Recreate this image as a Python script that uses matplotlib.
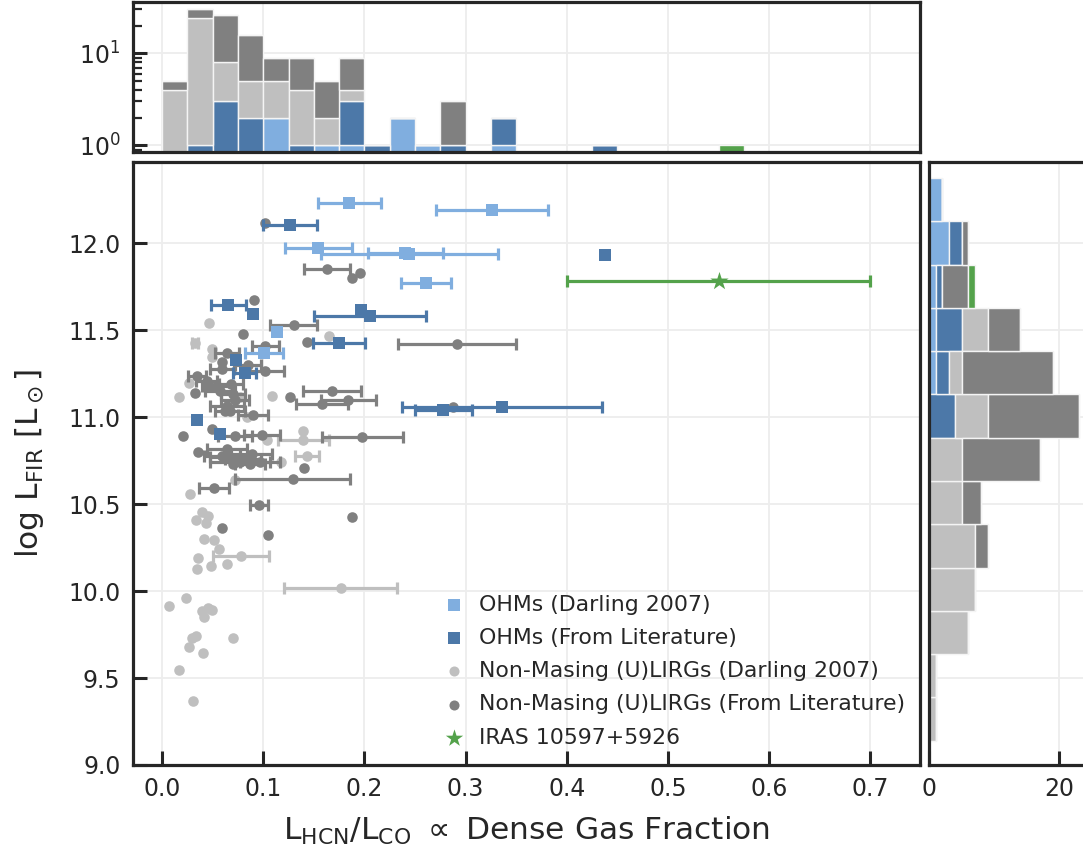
import numpy as np
import matplotlib
matplotlib.use('Agg')
import matplotlib.pyplot as plt

# ---------------- data ----------------
# OHMs (Darling 2007)
lb_x = [0.185, 0.326, 0.1545, 0.2445, 0.2405, 0.261, 0.114, 0.1008]
lb_y = [12.228, 12.191, 11.969, 11.938, 11.945, 11.770, 11.486, 11.371]
lb_e = [0.031, 0.055, 0.033, 0.0875, 0.037, 0.025, 0.0, 0.0185]

# OHMs (From Literature)
db_x = [0.1265, 0.438, 0.0655, 0.0902, 0.197, 0.2055, 0.175, 0.0735, 0.0815,
        0.0343, 0.0573, 0.278, 0.336]
db_y = [12.105, 11.933, 11.642, 11.590, 11.617, 11.580, 11.425, 11.326, 11.256,
        10.985, 10.902, 11.040, 11.055]
db_e = [0.027, 0.0, 0.0175, 0.0, 0.0, 0.055, 0.0255, 0.0, 0.011,
        0.0, 0.0, 0.028, 0.099]

# Non-Masing (U)LIRGs (Darling 2007)
lg_x = [0.0464, 0.165, 0.033, 0.049, 0.049, 0.027, 0.077, 0.0171, 0.1084, 0.0837,
        0.1035, 0.1397, 0.1397, 0.143, 0.118, 0.0721, 0.0277, 0.0392, 0.0333, 0.0435,
        0.045, 0.0415, 0.0514, 0.0359, 0.078, 0.0646, 0.048, 0.056, 0.0349, 0.1766,
        0.0237, 0.0072, 0.0392, 0.0458, 0.049, 0.0415, 0.0699, 0.0293, 0.0336, 0.027,
        0.0402, 0.0171, 0.031]
lg_y = [11.540, 11.467, 11.427, 11.390, 11.346, 11.193, 11.117, 11.113, 11.122, 11.000,
        10.870, 10.921, 10.868, 10.778, 10.743, 10.638, 10.557, 10.456, 10.408, 10.389,
        10.430, 10.299, 10.293, 10.190, 10.203, 10.155, 10.141, 10.240, 10.126, 10.017,
        9.960, 9.916, 9.887, 9.902, 9.891, 9.852, 9.730, 9.730, 9.743, 9.680,
        9.645, 9.546, 9.366]
lg_e = [0.0, 0.0, 0.003, 0.0, 0.0, 0.0, 0.0, 0.0, 0.0, 0.0,
        0.0, 0.0, 0.025, 0.012, 0.0, 0.0, 0.0, 0.0, 0.0, 0.0,
        0.0, 0.0, 0.0, 0.0, 0.028, 0.0, 0.0, 0.0, 0.0, 0.056,
        0.0, 0.0, 0.0, 0.0, 0.0, 0.0, 0.0, 0.0, 0.0, 0.0,
        0.0, 0.0, 0.0]

# Non-Masing (U)LIRGs (From Literature)
dg_x = [0.102, 0.163, 0.196, 0.1875, 0.091, 0.130, 0.080, 0.143, 0.2916, 0.102,
        0.064, 0.059, 0.059, 0.102, 0.0343, 0.044, 0.054, 0.047, 0.057, 0.0326,
        0.070, 0.168, 0.068, 0.085, 0.1265, 0.064, 0.062, 0.067, 0.288, 0.049,
        0.0204, 0.072, 0.0985, 0.198, 0.158, 0.184, 0.072, 0.090, 0.0353, 0.064,
        0.059, 0.067, 0.0886, 0.077, 0.087, 0.0968, 0.0705, 0.140, 0.129, 0.080,
        0.0514, 0.0958, 0.1874, 0.0596, 0.105]
dg_y = [12.113, 11.850, 11.828, 11.802, 11.672, 11.530, 11.480, 11.430, 11.420, 11.410,
        11.371, 11.314, 11.276, 11.262, 11.237, 11.209, 11.180, 11.170, 11.151, 11.141,
        11.135, 11.150, 11.190, 11.300, 11.117, 11.065, 11.036, 11.036, 11.055, 10.934,
        10.892, 10.889, 10.895, 10.887, 11.075, 11.098, 11.100, 11.010, 10.797, 10.816,
        10.778, 10.768, 10.787, 10.739, 10.730, 10.739, 10.730, 10.710, 10.644, 10.760,
        10.592, 10.494, 10.427, 10.360, 10.324]
dg_e = [0.0, 0.023, 0.0, 0.0, 0.0, 0.023, 0.0, 0.0, 0.058, 0.0135,
        0.012, 0.0, 0.012, 0.0185, 0.0087, 0.010, 0.015, 0.0, 0.015, 0.0,
        0.012, 0.029, 0.012, 0.013, 0.0, 0.017, 0.0, 0.015, 0.0, 0.0,
        0.0, 0.017, 0.0177, 0.040, 0.0255, 0.027, 0.014, 0.015, 0.0, 0.020,
        0.018, 0.020, 0.020, 0.030, 0.015, 0.020, 0.0, 0.0, 0.057, 0.018,
        0.015, 0.0085, 0.0, 0.0, 0.0]

# IRAS 10597+5926
gr_x = [0.55]
gr_y = [11.78]
gr_e = [0.15]

labels = ["OHMs (Darling 2007)", "OHMs (From Literature)",
          "Non-Masing (U)LIRGs (Darling 2007)", "Non-Masing (U)LIRGs (From Literature)",
          "IRAS 10597+5926"]

# ---------------- style ----------------
C_LB, C_DB, C_LG, C_DG, C_GR = '#80AEDF', '#4C78A8', '#BFBFBF', '#808080', '#54A24B'
SPINE = '#262626'
GRID = '#EDEDED'
plt.rcParams['font.family'] = ['DejaVu Sans']
plt.rcParams['mathtext.fontset'] = 'dejavusans'
TICK_FS = 17
LAB_FS = 22.5
LEG_FS = 15.8

W, H = 1083, 851
fig = plt.figure(figsize=(W / 100, H / 100), dpi=100)


def rect(l, t, r, b):
    return [l / W, 1 - b / H, (r - l) / W, (b - t) / H]


ax = fig.add_axes(rect(133, 162, 920, 765))
axt = fig.add_axes(rect(133, 2, 920, 152), sharex=ax)
axr = fig.add_axes(rect(929.3, 162, 1100, 765), sharey=ax)

for a in (ax, axt, axr):
    for s in a.spines.values():
        s.set_linewidth(2.3)
        s.set_color(SPINE)
    a.set_axisbelow(True)
    a.grid(True, color=GRID, lw=1.3)
    a.tick_params(which='major', direction='in', length=10, width=2.2,
                  color=SPINE, labelcolor=SPINE, labelsize=TICK_FS, pad=9)
    a.tick_params(which='minor', direction='in', length=6.5, width=1.6, color=SPINE)

# ---------------- main scatter ----------------
groups = [
    (lg_x, lg_y, lg_e, C_LG, 'o', 58, labels[2], 2.0),
    (dg_x, dg_y, dg_e, C_DG, 'o', 58, labels[3], 2.2),
    (lb_x, lb_y, lb_e, C_LB, 's', 80, labels[0], 3.0),
    (db_x, db_y, db_e, C_DB, 's', 80, labels[1], 3.2),
    (gr_x, gr_y, gr_e, C_GR, '*', 190, labels[4], 4.0),
]
handles = {}
for gx, gy, ge, c, m, s, lab, z in groups:
    gx = np.asarray(gx); gy = np.asarray(gy); ge = np.asarray(ge)
    k = ge > 0
    if k.any():
        ax.errorbar(gx[k], gy[k], xerr=ge[k], fmt='none', ecolor=c, elinewidth=2.3,
                    capsize=4.5, capthick=2.3, zorder=z)
    h = ax.scatter(gx, gy, s=s, c=c, marker=m, linewidths=0, zorder=z + 0.05, label=lab)
    handles[lab] = h

ax.set_xlim(-0.0287, 0.749)
ax.set_ylim(9.0, 12.466)
ax.set_xticks(np.arange(0, 0.71, 0.1))
ax.set_xticklabels([f"{v:.1f}" for v in np.arange(0, 0.71, 0.1)])
ax.set_yticks(np.arange(9.0, 12.01, 0.5))
ax.set_yticklabels([f"{v:.1f}" for v in np.arange(9.0, 12.01, 0.5)])
ax.set_xlabel(r"L$_{\rm HCN}$/L$_{\rm CO}$ $\propto$ Dense Gas Fraction",
              fontsize=LAB_FS, color=SPINE, labelpad=10)
ax.set_ylabel(r"log L$_{\rm FIR}$ [L$_\odot$]", fontsize=LAB_FS, color=SPINE, labelpad=16)

leg = ax.legend([handles[l] for l in labels], labels, loc='lower left',
                bbox_to_anchor=(0.395, 0.029), borderaxespad=0, borderpad=0,
                frameon=False, fontsize=LEG_FS, handlelength=0.9, handletextpad=0.7,
                labelspacing=0.6, scatterpoints=1, markerscale=0.95)
for t in leg.get_texts():
    t.set_color(SPINE)

# ---------------- histograms ----------------
xbins = np.round(np.arange(30) * 0.025, 4)
ybins = np.linspace(9.14, 12.374, 14)
cols = [C_LB, C_DB, C_LG, C_DG, C_GR]

axt.hist([lb_x, db_x, lg_x, dg_x, gr_x], bins=xbins, stacked=True, color=cols,
         edgecolor='#F4F4F4', linewidth=1.0, log=True)
axt.set_yscale('log')
axt.set_ylim(0.846, 36.1)
axt.tick_params(axis='x', which='both', length=0, labelbottom=False)

axr.hist([lb_y, db_y, lg_y, dg_y, gr_y], bins=ybins, stacked=True, color=cols,
         edgecolor='#F4F4F4', linewidth=1.0, orientation='horizontal')
axr.set_xlim(0, 26.26)
axr.set_xticks([0, 20])
axr.tick_params(axis='y', which='both', length=0, labelleft=False)

fig.savefig('out.png', dpi=100)
